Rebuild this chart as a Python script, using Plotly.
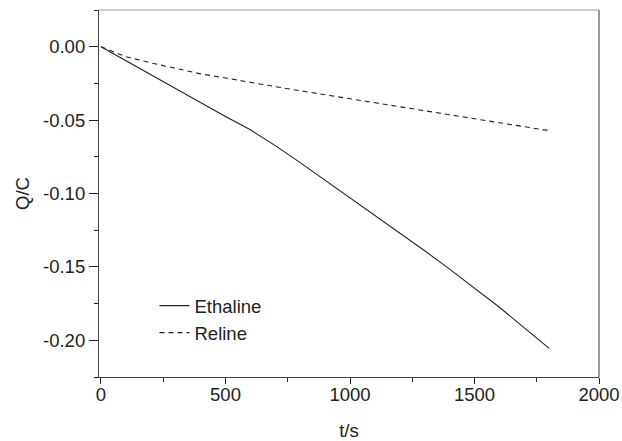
import plotly.graph_objects as go

t_eth = [0, 100, 200, 300, 400, 500, 600, 650, 700, 800, 900, 1000, 1100, 1200, 1300, 1400, 1500, 1600, 1700, 1800]
q_eth = [0, -0.0095, -0.019, -0.0287, -0.0383, -0.0475, -0.0566, -0.0618, -0.0674, -0.079, -0.091, -0.1025,
         -0.1145, -0.127, -0.139, -0.1515, -0.1645, -0.1775, -0.1915, -0.2055]

t_rel = [0, 50, 100, 200, 300, 400, 500, 600, 700, 800, 900, 1000, 1100, 1200, 1300, 1400, 1500, 1600, 1700, 1800]
q_rel = [0, -0.0035, -0.0068, -0.011, -0.015, -0.0185, -0.0213, -0.024, -0.0272, -0.03, -0.0327, -0.0353,
         -0.0379, -0.0405, -0.0433, -0.0462, -0.049, -0.0518, -0.0545, -0.0572]

x_ticks = [0, 500, 1000, 1500, 2000]
y_ticks = [0.0, -0.05, -0.10, -0.15, -0.20]
y_tick_labels = ["0.00", "-0.05", "-0.10", "-0.15", "-0.20"]

FONT = "Liberation Sans, Arial, sans-serif"
INK = "#222222"
FS = 18.5

fig = go.Figure()
fig.add_trace(go.Scatter(x=t_eth, y=q_eth, mode="lines", name="Ethaline",
                         line=dict(color=INK, width=1.1)))
fig.add_trace(go.Scatter(x=t_rel, y=q_rel, mode="lines", name="Reline",
                         line=dict(color=INK, width=1.1, dash="5px,4px")))

fig.update_layout(
    width=622, height=441,
    margin=dict(l=99, r=23, t=10, b=64, autoexpand=False),
    paper_bgcolor="white", plot_bgcolor="white",
    font=dict(family=FONT, size=FS, color=INK),
    showlegend=True,
    legend=dict(x=0.111, y=0.245, xanchor="left", yanchor="top",
                bgcolor="rgba(0,0,0,0)", font=dict(size=FS, color=INK),
                tracegroupgap=0, itemwidth=30),
    xaxis=dict(range=[-8, 2000], tickvals=x_ticks, ticks="outside", ticklen=6,
               tickwidth=1, tickcolor=INK, showline=True, linecolor="#444444",
               linewidth=1.2, mirror=False, showgrid=False, zeroline=False,
               ticklabelstandoff=-5, automargin=False,
               minor=dict(dtick=250, tick0=0, ticks="outside", ticklen=4, tickcolor=INK),
               title=dict(text="t/s", standoff=21, font=dict(size=FS))),
    yaxis=dict(range=[-0.225, 0.025], tickvals=y_ticks, ticktext=y_tick_labels,
               ticks="outside", ticklen=9, tickwidth=1, tickcolor=INK,
               showline=True, linecolor="#444444", linewidth=1.2, showgrid=False,
               zeroline=False, automargin=False,
               minor=dict(dtick=0.025, tick0=0, ticks="outside", ticklen=4, tickcolor=INK),
               title=dict(text="Q/C", standoff=8, font=dict(size=FS))),
    shapes=[
        dict(type="line", xref="paper", yref="paper", x0=0, x1=1, y0=1, y1=1,
             line=dict(color="#9a9a9a", width=1.2)),
        dict(type="line", xref="paper", yref="paper", x0=1, x1=1, y0=0, y1=1,
             line=dict(color="#555555", width=1.2)),
    ],
)

fig.write_html("out.html", config={"displayModeBar": False},
               post_script="document.body.style.margin='0';")
